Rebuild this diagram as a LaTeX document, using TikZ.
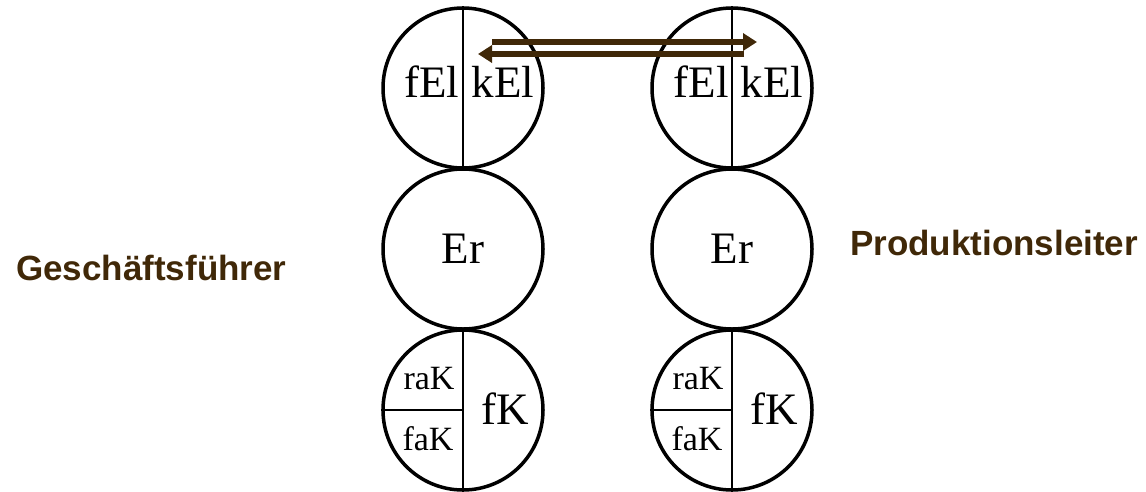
\documentclass[tikz,border=0pt]{standalone}
\usepackage{fontspec}
\setmainfont{Liberation Serif}
\setsansfont{Liberation Sans}
\usetikzlibrary{positioning,arrows.meta,calc}
\definecolor{darkbrown}{RGB}{64,40,8}

\begin{document}
\begin{tikzpicture}[x=1pt,y=-1pt,
  >={Triangle[length=14pt,width=17pt]},
  ring/.style={draw,circle,line width=3.5pt,minimum size=160pt,inner sep=0pt},
  big/.style={font=\fontsize{45}{45}\selectfont,inner sep=0pt,anchor=base},
  small/.style={font=\fontsize{34}{34}\selectfont,inner sep=0pt,anchor=base},
  role/.style={font=\fontsize{35}{35}\selectfont\sffamily\bfseries,text=darkbrown,inner sep=0pt,anchor=base west},
  split/.style={line width=1.2pt},
  flow/.style={->,line width=5.5pt,darkbrown},
]
\useasboundingbox (0,0) rectangle (1146,491);

% ===== left column: Geschaeftsfuehrer =====
\node[ring] (gTop) at (463,88) {};
\node[ring] (gMid) at (463,249) {};
\node[ring] (gBot) at (463,410) {};
\draw[split] (gTop.north) -- (gTop.south);
\draw[split] (gBot.north) -- (gBot.south);
\draw[split] (gBot.west) -- (gBot.center);
\node[big] (gfEl) at ($(gTop)+(-31,9)$) {fEl};
\node[big] (gkEl) at ($(gTop)+(40,9)$) {kEl};
\node[big] (gEr) at ($(gMid)+(0,14)$) {Er};
\node[small] (graK) at ($(gBot)+(-34,-21)$) {raK};
\node[small] (gfaK) at ($(gBot)+(-35,40)$) {faK};
\node[big] (gfK) at ($(gBot)+(42,14)$) {fK};
\node[role] (gLab) at (16,280) {Geschäftsführer};

% ===== right column: Produktionsleiter =====
\node[ring] (pTop) at (732,88) {};
\node[ring] (pMid) at (732,249) {};
\node[ring] (pBot) at (732,410) {};
\draw[split] (pTop.north) -- (pTop.south);
\draw[split] (pBot.north) -- (pBot.south);
\draw[split] (pBot.west) -- (pBot.center);
\node[big] (pfEl) at ($(pTop)+(-31,9)$) {fEl};
\node[big] (pkEl) at ($(pTop)+(40,9)$) {kEl};
\node[big] (pEr) at ($(pMid)+(0,14)$) {Er};
\node[small] (praK) at ($(pBot)+(-34,-21)$) {raK};
\node[small] (pfaK) at ($(pBot)+(-35,40)$) {faK};
\node[big] (pfK) at ($(pBot)+(42,14)$) {fK};
\node[role] (pLab) at (850,255) {Produktionsleiter};

% ===== exchange between the two kEl halves =====
\coordinate (outA) at ($(gTop)+(29,-46)$);
\coordinate (outB) at ($(pTop)+(25,-46)$);
\coordinate (backA) at ($(pTop)+(12,-34)$);
\coordinate (backB) at ($(gTop)+(15,-34)$);
\draw[flow] (outA) -- (outB);
\draw[flow] (backA) -- (backB);
\end{tikzpicture}
\end{document}
